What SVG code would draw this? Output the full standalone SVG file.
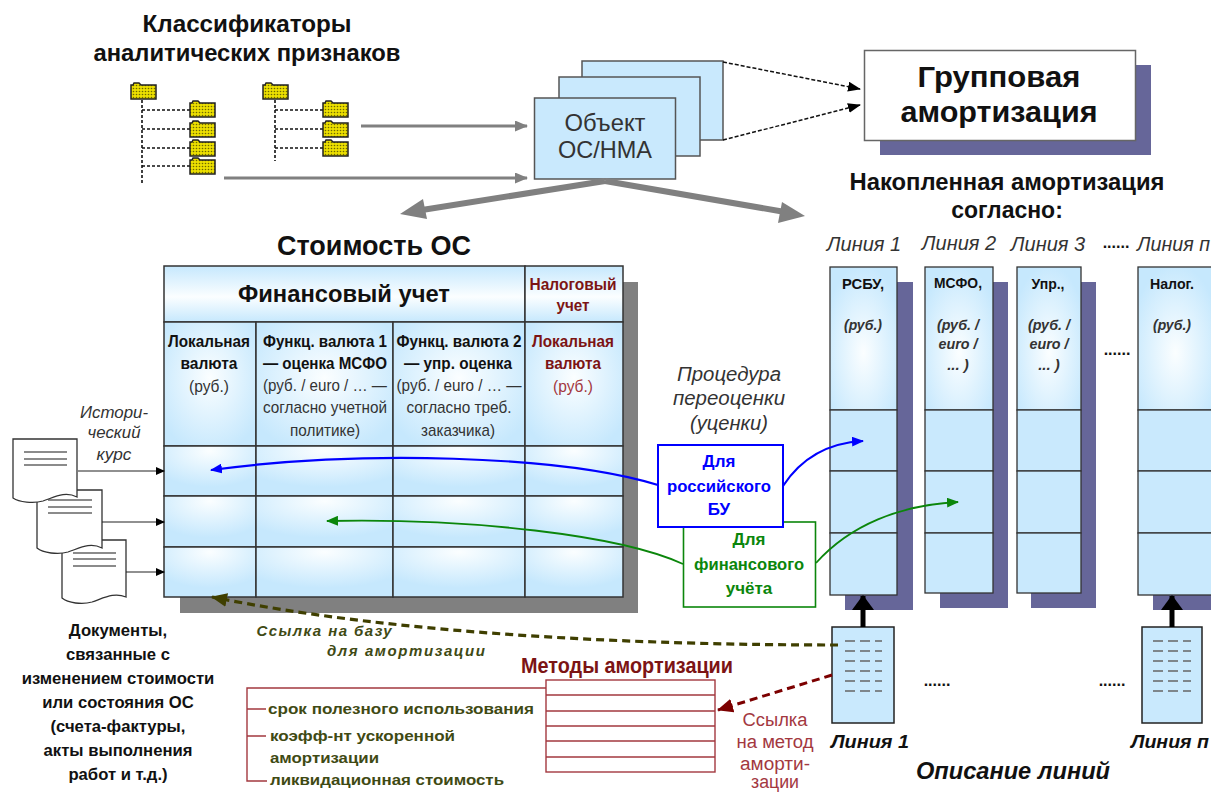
<svg xmlns="http://www.w3.org/2000/svg" width="1211" height="793" viewBox="0 0 1211 793">
<style>
text{font-family:"Liberation Sans",Arial,sans-serif;text-anchor:middle;fill:#111}
.b{font-weight:700}.i{font-style:italic}.bi{font-weight:700;font-style:italic}
.g{fill:#333}.red{fill:#7c1414}.lred{fill:#a3383f}.ol{fill:#3f4a14}
.s{fill:#666699}.gs{fill:#808080}
.cell{fill:url(#cg);stroke:#333;stroke-width:1.5}
.row{fill:url(#rg);stroke:#333;stroke-width:1.5}
.blue{fill:#c9e9fd;stroke:#333;stroke-width:1.3}
.top{fill:url(#tg);stroke:#333;stroke-width:1.3}
.folder{fill:url(#dots);stroke:#222;stroke-width:1.5}
.dash{stroke:#111;stroke-width:1.6;stroke-dasharray:3 2;fill:none}
.doc{fill:#fff;stroke:#333;stroke-width:1.3}
.dl{stroke:#666;stroke-width:1.5}
.tick{stroke:#666;stroke-width:1.6;stroke-dasharray:10 5 10 5 7 0}
</style>
<defs>
<radialGradient id="cg" cx="0.5" cy="0.45" r="0.62"><stop offset="0" stop-color="#fbfeff"/><stop offset="1" stop-color="#c6e8fd"/></radialGradient>
<radialGradient id="rg" cx="0.5" cy="0.1" r="0.72"><stop offset="0" stop-color="#fbfeff"/><stop offset="1" stop-color="#c6e8fd"/></radialGradient>
<radialGradient id="tg" cx="0.5" cy="0.6" r="0.62"><stop offset="0" stop-color="#fbfeff"/><stop offset="1" stop-color="#c6e8fd"/></radialGradient>
<linearGradient id="hg" x1="0" y1="0" x2="0" y2="1"><stop offset="0" stop-color="#c6e8fd"/><stop offset="0.55" stop-color="#fbfeff"/><stop offset="1" stop-color="#c6e8fd"/></linearGradient>
<pattern id="dots" width="3" height="3" patternUnits="userSpaceOnUse"><rect width="3" height="3" fill="#ecdf00"/><circle cx="1.5" cy="1.5" r="0.8" fill="#6e6800"/></pattern>
<marker id="ag" markerWidth="13" markerHeight="11" refX="12" refY="5.5" orient="auto" markerUnits="userSpaceOnUse"><path d="M0 0L13 5.500L0 11z" fill="#808080"/></marker>
<marker id="ak" markerWidth="13" markerHeight="10" refX="12" refY="5" orient="auto" markerUnits="userSpaceOnUse"><path d="M0 0L13 5L0 10z" fill="#000"/></marker>
<marker id="ak2" markerWidth="9" markerHeight="8" refX="8" refY="4" orient="auto" markerUnits="userSpaceOnUse"><path d="M0 0L9 4L0 8z" fill="#000"/></marker>
<marker id="abl" markerWidth="12" markerHeight="10" refX="11" refY="5" orient="auto" markerUnits="userSpaceOnUse"><path d="M0 0L12 5L0 10z" fill="#0000ff"/></marker>
<marker id="agn" markerWidth="12" markerHeight="10" refX="11" refY="5" orient="auto" markerUnits="userSpaceOnUse"><path d="M0 0L12 5L0 10z" fill="#0b860b"/></marker>
<marker id="aol" markerWidth="16" markerHeight="14" refX="15" refY="7" orient="auto" markerUnits="userSpaceOnUse"><path d="M0 0L16 7L0 14z" fill="#3f3f00"/></marker>
<marker id="ard" markerWidth="16" markerHeight="14" refX="15" refY="7" orient="auto" markerUnits="userSpaceOnUse"><path d="M0 0L16 7L0 14z" fill="#7c0000"/></marker>
</defs>

<g id="title-classifiers">
<text class="b" x="247" y="32" font-size="24" textLength="209" lengthAdjust="spacingAndGlyphs">Классификаторы</text>
<text class="b" x="247" y="61" font-size="24" textLength="307" lengthAdjust="spacingAndGlyphs">аналитических признаков</text>
</g>

<g id="tree-1">
<path class="dash" d="M142 100V184M142 110H190M142 129H190M142 148H190M142 166H190"/>
<path class="folder" d="M131 85h2l1-2h5l2 2h15v14h-25z"/>
<path class="folder" d="M190 103h2l1-2h5l2 2h15v14h-25z"/>
<path class="folder" d="M190 123h2l1-2h5l2 2h15v14h-25z"/>
<path class="folder" d="M190 142h2l1-2h5l2 2h15v14h-25z"/>
<path class="folder" d="M190 160h2l1-2h5l2 2h15v14h-25z"/>
</g>
<g id="tree-2">
<path class="dash" d="M275 100V161M275 110H323M275 129H323M275 148H323"/>
<path class="folder" d="M263 85h2l1-2h5l2 2h15v14h-25z"/>
<path class="folder" d="M323 103h2l1-2h5l2 2h15v14h-25z"/>
<path class="folder" d="M323 123h2l1-2h5l2 2h15v14h-25z"/>
<path class="folder" d="M323 142h2l1-2h5l2 2h15v14h-25z"/>
</g>

<g id="object-stack">
<rect x="582" y="61" width="141" height="79" fill="#c9e9fd" stroke="#555" stroke-width="1.5"/>
<rect x="559" y="77" width="141" height="79" fill="#c9e9fd" stroke="#555" stroke-width="1.5"/>
<rect x="534.500" y="98" width="141" height="81" fill="#c9e9fd" stroke="#555" stroke-width="1.5"/>
<text class="g" x="605" y="131" font-size="24" textLength="81" lengthAdjust="spacingAndGlyphs">Объект</text>
<text class="g" x="605" y="158" font-size="24" textLength="94" lengthAdjust="spacingAndGlyphs">ОС/НМА</text>
</g>

<g id="group-amort">
<rect class="s" x="880" y="65" width="271" height="90"/>
<rect x="864.500" y="50.500" width="271" height="90" fill="#fff" stroke="#666" stroke-width="1.5"/>
<text class="b" x="999" y="87" font-size="30" textLength="163" lengthAdjust="spacingAndGlyphs">Групповая</text>
<text class="b" x="999" y="122" font-size="30" textLength="197" lengthAdjust="spacingAndGlyphs">амортизация</text>
</g>

<g id="heading-accum">
<text class="b" x="1007" y="190" font-size="23" textLength="315" lengthAdjust="spacingAndGlyphs">Накопленная амортизация</text>
<text class="b" x="1007" y="218" font-size="23">согласно:</text>
<text class="i g" x="864" y="251" font-size="20">Линия 1</text>
<text class="i g" x="959" y="250" font-size="20">Линия 2</text>
<text class="i g" x="1048" y="251" font-size="20">Линия 3</text>
<text class="i g" x="1137" y="251" font-size="20" style="text-anchor:start" textLength="73" lengthAdjust="spacingAndGlyphs">Линия п</text>
<text class="b" x="1116" y="248" font-size="16">......</text>
</g>

<g id="heading-cost"><text class="b" x="374" y="255" font-size="27" textLength="194" lengthAdjust="spacingAndGlyphs">Стоимость ОС</text></g>

<g id="cost-table">
<rect class="gs" x="180" y="282" width="458" height="331"/>
<rect x="164" y="266" width="361" height="56" fill="url(#hg)" stroke="#333" stroke-width="1.5"/>
<rect x="525" y="266" width="98" height="56" fill="url(#hg)" stroke="#333" stroke-width="1.5"/>
<rect class="cell" x="164" y="322" width="92" height="124"/>
<rect class="cell" x="256" y="322" width="137" height="124"/>
<rect class="cell" x="393" y="322" width="132" height="124"/>
<rect class="cell" x="525" y="322" width="98" height="124"/>
<rect class="row" x="164" y="446" width="92" height="50"/><rect class="row" x="256" y="446" width="137" height="50"/><rect class="row" x="393" y="446" width="132" height="50"/><rect class="row" x="525" y="446" width="98" height="50"/>
<rect class="row" x="164" y="496" width="92" height="51"/><rect class="row" x="256" y="496" width="137" height="51"/><rect class="row" x="393" y="496" width="132" height="51"/><rect class="row" x="525" y="496" width="98" height="51"/>
<rect class="row" x="164" y="547" width="92" height="50"/><rect class="row" x="256" y="547" width="137" height="50"/><rect class="row" x="393" y="547" width="132" height="50"/><rect class="row" x="525" y="547" width="98" height="50"/>
<text class="b" x="344" y="302" font-size="24" textLength="212" lengthAdjust="spacingAndGlyphs">Финансовый учет</text>
<g font-size="17">
<text class="b red" x="573" y="290" textLength="87" lengthAdjust="spacingAndGlyphs">Налоговый</text>
<text class="b red" x="573" y="311" textLength="33" lengthAdjust="spacingAndGlyphs">учет</text>
<text class="b" x="209" y="347" textLength="82" lengthAdjust="spacingAndGlyphs">Локальная</text>
<text class="b" x="209" y="369" textLength="57" lengthAdjust="spacingAndGlyphs">валюта</text>
<text class="b" x="325" y="347" textLength="124" lengthAdjust="spacingAndGlyphs">Функц. валюта 1</text>
<text class="b" x="325" y="369" textLength="124" lengthAdjust="spacingAndGlyphs">— оценка МСФО</text>
<text class="b" x="459" y="347" textLength="125" lengthAdjust="spacingAndGlyphs">Функц. валюта 2</text>
<text class="b" x="458" y="369" textLength="108" lengthAdjust="spacingAndGlyphs">— упр. оценка</text>
<text class="b red" x="573" y="347" textLength="82" lengthAdjust="spacingAndGlyphs">Локальная</text>
<text class="b red" x="573" y="369" textLength="56" lengthAdjust="spacingAndGlyphs">валюта</text>
<text class="g" x="209" y="392" textLength="40" lengthAdjust="spacingAndGlyphs">(руб.)</text>
<text class="g" x="325" y="391" textLength="124" lengthAdjust="spacingAndGlyphs">(руб. / euro / … —</text>
<text class="g" x="325" y="413" textLength="124" lengthAdjust="spacingAndGlyphs">согласно учетной</text>
<text class="g" x="325" y="436" textLength="70" lengthAdjust="spacingAndGlyphs">политике)</text>
<text class="g" x="459" y="391" textLength="125" lengthAdjust="spacingAndGlyphs">(руб. / euro / … —</text>
<text class="g" x="459" y="413" textLength="105" lengthAdjust="spacingAndGlyphs">согласно треб.</text>
<text class="g" x="458" y="436" textLength="74" lengthAdjust="spacingAndGlyphs">заказчика)</text>
<text class="lred" x="573" y="392" textLength="40" lengthAdjust="spacingAndGlyphs">(руб.)</text>
</g>
</g>

<g id="line-columns">
<g id="col-1">
<rect class="s" x="845" y="282" width="68" height="328"/>
<rect class="top" x="830" y="267" width="67" height="143"/>
<rect class="blue" x="830" y="410" width="67" height="61"/>
<rect class="blue" x="830" y="471" width="67" height="62"/>
<rect class="blue" x="830" y="533" width="67" height="62"/>
<text class="b" x="863" y="289" font-size="15" textLength="42" lengthAdjust="spacingAndGlyphs">РСБУ,</text>
<text class="bi g" x="863" y="330" font-size="15" textLength="38" lengthAdjust="spacingAndGlyphs">(руб.)</text>
</g>
<g id="col-2">
<rect class="s" x="940" y="282" width="68" height="326"/>
<rect class="top" x="925" y="267" width="68" height="143"/>
<rect class="blue" x="925" y="410" width="68" height="61"/>
<rect class="blue" x="925" y="471" width="68" height="62"/>
<rect class="blue" x="925" y="533" width="68" height="60"/>
<text class="b" x="958" y="288" font-size="15" textLength="48" lengthAdjust="spacingAndGlyphs">МСФО,</text>
<text class="bi g" x="958" y="330" font-size="15" textLength="42" lengthAdjust="spacingAndGlyphs">(руб. /</text>
<text class="bi g" x="958" y="349" font-size="15" textLength="39" lengthAdjust="spacingAndGlyphs">euro /</text>
<text class="bi g" x="958" y="370" font-size="15">... )</text>
</g>
<g id="col-3">
<rect class="s" x="1031" y="282" width="65" height="326"/>
<rect class="top" x="1017" y="267" width="64" height="143"/>
<rect class="blue" x="1017" y="410" width="64" height="61"/>
<rect class="blue" x="1017" y="471" width="64" height="62"/>
<rect class="blue" x="1017" y="533" width="64" height="60"/>
<text class="b" x="1048" y="289" font-size="15" textLength="33" lengthAdjust="spacingAndGlyphs">Упр.,</text>
<text class="bi g" x="1049" y="330" font-size="15" textLength="42" lengthAdjust="spacingAndGlyphs">(руб. /</text>
<text class="bi g" x="1049" y="349" font-size="15" textLength="39" lengthAdjust="spacingAndGlyphs">euro /</text>
<text class="bi g" x="1049" y="370" font-size="15">... )</text>
</g>
<g id="col-n">
<rect class="s" x="1153" y="282" width="70" height="328"/>
<rect class="top" x="1138" y="267" width="75" height="143"/>
<rect class="blue" x="1138" y="410" width="75" height="61"/>
<rect class="blue" x="1138" y="471" width="75" height="62"/>
<rect class="blue" x="1138" y="533" width="75" height="62"/>
<text class="b" x="1172" y="289" font-size="15" textLength="44" lengthAdjust="spacingAndGlyphs">Налог.</text>
<text class="bi g" x="1172" y="330" font-size="15" textLength="38" lengthAdjust="spacingAndGlyphs">(руб.)</text>
</g>
<text class="b" x="1117" y="355" font-size="16">......</text>
</g>

<g id="documents">
<g id="doc-3"><path class="doc" d="M62 540H126V597C114 592 104 598 92 602C82 605 68 603 62 598Z"/><path class="dl" d="M73 553H116M73 559H116M73 566H116"/></g>
<g id="doc-2"><path class="doc" d="M37 490H102V548C90 542 80 548 68 552C58 555 43 553 37 548Z"/><path class="dl" d="M48 500H92M48 507H92M48 513H92"/></g>
<g id="doc-1"><path class="doc" d="M13 439H77V497C65 491 55 497 43 501C33 504 19 502 13 498Z"/><path class="dl" d="M24 452H67M24 459H67M24 465H67"/></g>
</g>

<g id="hist-label" font-size="17">
<text class="i g" x="114" y="418" textLength="68" lengthAdjust="spacingAndGlyphs">Истори-</text>
<text class="i g" x="114" y="438" textLength="53" lengthAdjust="spacingAndGlyphs">ческий</text>
<text class="i g" x="114" y="460" textLength="35" lengthAdjust="spacingAndGlyphs">курс</text>
</g>

<g id="docs-caption" font-size="17" transform="translate(118 0) scale(.98 1)">
<text class="b" x="0" y="636">Документы,</text>
<text class="b" x="0" y="660">связанные с</text>
<text class="b" x="0" y="684">изменением стоимости</text>
<text class="b" x="0" y="708">или состояния ОС</text>
<text class="b" x="0" y="732">(счета-фактуры,</text>
<text class="b" x="0" y="756">акты выполнения</text>
<text class="b" x="0" y="780">работ и т.д.)</text>
</g>

<g id="reval-label" font-size="20">
<text class="i g" x="729" y="381" textLength="104" lengthAdjust="spacingAndGlyphs">Процедура</text>
<text class="i g" x="729" y="405" textLength="112" lengthAdjust="spacingAndGlyphs">переоценки</text>
<text class="i g" x="729" y="430" textLength="78" lengthAdjust="spacingAndGlyphs">(уценки)</text>
</g>

<g id="box-fin">
<rect x="683.500" y="522" width="132" height="85" fill="#fff" stroke="#0b860b" stroke-width="1.6"/>
<text class="b" x="749" y="545" font-size="17" style="fill:#0b860b">Для</text>
<text class="b" x="749" y="570" font-size="17" style="fill:#0b860b" textLength="110" lengthAdjust="spacingAndGlyphs">финансового</text>
<text class="b" x="749" y="594" font-size="17" style="fill:#0b860b">учёта</text>
</g>
<g id="box-ru">
<rect x="658" y="445" width="125" height="82" fill="#fff" stroke="#0000ff" stroke-width="2"/>
<text class="b" x="719" y="467" font-size="17" style="fill:#0000ff">Для</text>
<text class="b" x="719" y="492" font-size="17" style="fill:#0000ff" textLength="104" lengthAdjust="spacingAndGlyphs">российского</text>
<text class="b" x="719" y="515" font-size="17" style="fill:#0000ff">БУ</text>
</g>

<g id="line-desc-1">
<rect x="832" y="627" width="62" height="96" fill="#c9e9fd" stroke="#222" stroke-width="1.5"/>
<path class="tick" d="M845 641H882M845 651H882M845 661H882M845 671H882M845 681H882M845 691H882"/>
</g>
<g id="line-desc-n">
<rect x="1142" y="627" width="60" height="96" fill="#c9e9fd" stroke="#222" stroke-width="1.5"/>
<path class="tick" d="M1153 641H1191M1153 651H1191M1153 661H1191M1153 671H1191M1153 681H1191M1153 691H1191"/>
</g>

<g id="desc-labels">
<text class="bi" x="870" y="748" font-size="19" textLength="78" lengthAdjust="spacingAndGlyphs">Линия 1</text>
<text class="bi" x="1131" y="748" font-size="19" style="text-anchor:start" textLength="78" lengthAdjust="spacingAndGlyphs">Линия п</text>
<text class="bi" x="1013" y="779" font-size="24" textLength="194" lengthAdjust="spacingAndGlyphs">Описание линий</text>
<text class="b" x="937" y="686" font-size="16">......</text>
<text class="b" x="1112" y="686" font-size="16">......</text>
</g>

<g id="methods">
<text class="b red" x="627" y="673" font-size="22" textLength="212" lengthAdjust="spacingAndGlyphs">Методы амортизации</text>
<g fill="none" stroke="#a3383f" stroke-width="1.4">
<rect x="546" y="680" width="169" height="92" fill="#fff"/>
<path d="M546 695H715M546 711H715M546 726H715M546 741H715M546 757H715"/>
<path d="M546 688H247V781H267M247 709H266M247 736H266"/>
</g>
<g font-size="15">
<text class="b ol" x="401" y="714" textLength="266" lengthAdjust="spacingAndGlyphs">срок полезного использования</text>
<text class="b ol" x="270" y="741" style="text-anchor:start" textLength="185" lengthAdjust="spacingAndGlyphs">коэфф-нт ускоренной</text>
<text class="b ol" x="270" y="763" style="text-anchor:start" textLength="109" lengthAdjust="spacingAndGlyphs">амортизации</text>
<text class="b ol" x="270" y="785" style="text-anchor:start" textLength="234" lengthAdjust="spacingAndGlyphs">ликвидационная стоимость</text>
</g>
</g>

<g id="ref-labels">
<text class="bi ol" x="324" y="636" font-size="15" textLength="135" lengthAdjust="spacing">Ссылка на базу</text>
<text class="bi ol" x="406" y="656" font-size="15" textLength="158" lengthAdjust="spacing">для амортизации</text>
<g font-size="18">
<text class="lred" x="775" y="726" textLength="65" lengthAdjust="spacingAndGlyphs">Ссылка</text>
<text class="lred" x="775" y="748" textLength="77" lengthAdjust="spacingAndGlyphs">на метод</text>
<text class="lred" x="775" y="770" textLength="70" lengthAdjust="spacingAndGlyphs">аморти-</text>
<text class="lred" x="775" y="788" textLength="48" lengthAdjust="spacingAndGlyphs">зации</text>
</g>
</g>

<g id="connectors" fill="none">
<path d="M361 126H527" stroke="#808080" stroke-width="3" marker-end="url(#ag)"/>
<path d="M224 178H527" stroke="#808080" stroke-width="3" marker-end="url(#ag)"/>
<path d="M605 181L422 210" stroke="#808080" stroke-width="6"/><path d="M400 214L423 199L427 219z" fill="#808080"/>
<path d="M605 181L785 212" stroke="#808080" stroke-width="6"/><path d="M805 216L782 202L778 223z" fill="#808080"/>
<path d="M723 62L860 89" stroke="#111" stroke-width="1.5" stroke-dasharray="4 2" marker-end="url(#ak)"/>
<path d="M723 140L860 105" stroke="#111" stroke-width="1.5" stroke-dasharray="4 2" marker-end="url(#ak)"/>
<path d="M78 471H164" stroke="#222" stroke-width="1.2" marker-end="url(#ak2)"/>
<path d="M102 522H164" stroke="#222" stroke-width="1.2" marker-end="url(#ak2)"/>
<path d="M126 572H164" stroke="#222" stroke-width="1.2" marker-end="url(#ak2)"/>
<path d="M658 485C560 455 360 450 211 470" stroke="#0000ff" stroke-width="2.2" marker-end="url(#abl)"/>
<path d="M683 564C620 535 470 518 327 521" stroke="#0b860b" stroke-width="1.8" marker-end="url(#agn)"/>
<path d="M783 486C800 460 825 443 863 441" stroke="#0000ff" stroke-width="2.2" marker-end="url(#abl)"/>
<path d="M816 563C850 525 900 505 958 502" stroke="#0b860b" stroke-width="1.8" marker-end="url(#agn)"/>
<path d="M838 645C640 645 400 635 212 597" stroke="#3f3f00" stroke-width="3.2" stroke-dasharray="8 5" marker-end="url(#aol)"/>
<path d="M832 675L718 710" stroke="#7c0000" stroke-width="3" stroke-dasharray="8 5" marker-end="url(#ard)"/>
<path d="M863 627V596" stroke="#000" stroke-width="5"/><path d="M852 610L863 595L874 610z" fill="#000"/>
<path d="M1172 627V596" stroke="#000" stroke-width="5"/><path d="M1161 610L1172 595L1183 610z" fill="#000"/>
</g>
</svg>
